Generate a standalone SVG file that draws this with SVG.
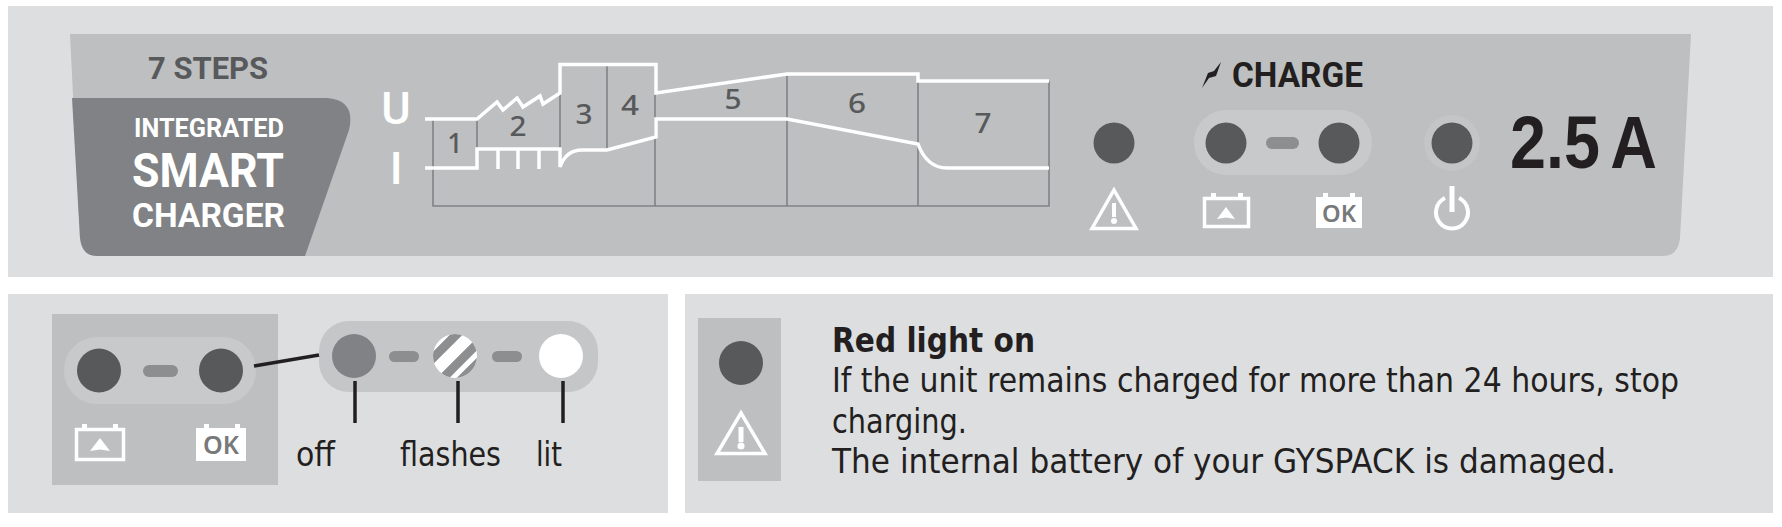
<svg xmlns="http://www.w3.org/2000/svg" width="1782" height="527" viewBox="0 0 1782 527">
<style>
.panel{fill:#dcdee0}
.inner{fill:#bdbfc1}
.led{fill:#58595b}
.pill{fill:#c8c9cb}
.dash{fill:#8c8e90}
.din{font-family:Roboto,"Liberation Sans",sans-serif;font-weight:700}
.wl{fill:none;stroke:#fff;stroke-width:3.5;stroke-linejoin:miter}
.gl{fill:none;stroke:#808285;stroke-width:1.6}
.num{font-family:"Noto Sans",sans-serif;font-size:27px;font-weight:500;fill:#58595b;text-anchor:middle}
.tw{fill:none;stroke:#fff;stroke-width:3.5}
.wf{fill:#fff}
.body{font-family:"DejaVu Sans","Noto Sans",sans-serif;font-size:33px;fill:#231f20}
.leader{fill:none;stroke:#231f20;stroke-width:3.5}
.oktext{font-family:"Noto Sans",sans-serif;font-weight:600;fill:#77797b;text-anchor:middle}
</style>
<defs>
<clipPath id="flashClip"><circle cx="455" cy="356" r="22"/></clipPath>
</defs>
<rect width="1782" height="527" fill="#fff"/>

<g id="top-panel">
<rect class="panel" x="8" y="6" width="1765" height="271"/>
<path class="inner" d="M70 34H1691L1680 238Q1678 256 1663 256H97Q82 256 80 238Z"/>
</g>

<g id="badge">
<path d="M72 98H327Q356 100 349 130L305 256H97Q82 256 80 238Z" fill="#808285"/>
<text class="din" x="148" y="79" font-size="32" fill="#58595b" textLength="120" lengthAdjust="spacingAndGlyphs">7 STEPS</text>
<text class="din" x="134" y="137" font-size="25" fill="#fff" textLength="150" lengthAdjust="spacingAndGlyphs">INTEGRATED</text>
<text class="din" x="132" y="187" font-size="48" fill="#fff" textLength="152" lengthAdjust="spacingAndGlyphs">SMART</text>
<text class="din" x="132" y="227" font-size="34" fill="#fff" textLength="153" lengthAdjust="spacingAndGlyphs">CHARGER</text>
</g>

<g id="chart">
<text x="396" y="124" font-family="Roboto,sans-serif" font-size="45" font-weight="500" fill="#fff" text-anchor="middle">U</text>
<text x="396" y="184" font-family="Roboto,sans-serif" font-size="45" font-weight="500" fill="#fff" text-anchor="middle">I</text>
<path class="gl" d="M433 120V206H1049V81M477 120V149M560 93V149M607 66V150M655 94V206M787 76V206M918 76V206"/>
<path class="wl" d="M425 119H477L497 102L503 110L517 98L523 107L540 96L543 104L560 93V64.500H656V93L787 74H918V81H1049"/>
<path class="wl" d="M425 168H477V149H560V167Q566 150 582 150H607L656 137V119H787L918 144Q927 168 947 168H1049"/>
<path class="wl" d="M498 149V169M518 149V169M539 149V169"/>
<text class="num" x="455" y="153">1</text>
<text class="num" x="518" y="136" textLength="17" lengthAdjust="spacingAndGlyphs">2</text>
<text class="num" x="584" y="124" textLength="17" lengthAdjust="spacingAndGlyphs">3</text>
<text class="num" x="630" y="115" textLength="18" lengthAdjust="spacingAndGlyphs">4</text>
<text class="num" x="733" y="109" textLength="17" lengthAdjust="spacingAndGlyphs">5</text>
<text class="num" x="857" y="113" textLength="18" lengthAdjust="spacingAndGlyphs">6</text>
<text class="num" x="983" y="133" textLength="17" lengthAdjust="spacingAndGlyphs">7</text>
</g>

<g id="warning-indicator">
<circle class="led" cx="1114" cy="143" r="20.500"/>
<path class="tw" d="M1114 190L1136 228.500H1092Z"/>
<rect class="wf" x="1112" y="203" width="4" height="14"/>
<circle class="wf" cx="1114" cy="221" r="3"/>
</g>

<g id="charge-indicator">
<path d="M1202 88L1208 73L1214 71L1221 62L1216 76L1209 78Z" fill="#231f20"/>
<text class="din" x="1232" y="87" font-size="35" fill="#231f20" textLength="131" lengthAdjust="spacingAndGlyphs">CHARGE</text>
<rect class="pill" x="1194" y="110" width="178" height="65" rx="32"/>
<circle class="led" cx="1226" cy="143" r="20.500"/>
<circle class="led" cx="1339" cy="143" r="20.500"/>
<rect class="dash" x="1266" y="137" width="33" height="12" rx="6"/>
<path class="tw" d="M1204.500 198.500H1248.500V226.500H1204.500Z" stroke-width="3.200"/>
<path class="wf" d="M1211 193h5v4h-5zM1238 193h5v4h-5zM1226 207L1235 219L1226 217.500L1217 219Z"/>
<path class="wf" d="M1316 197H1362V228H1316ZM1323 193h5v4h-5zM1350 193h5v4h-5z"/>
<text class="oktext" x="1339" y="222" font-size="24" textLength="34" lengthAdjust="spacingAndGlyphs">OK</text>
</g>

<g id="power-indicator">
<circle cx="1452" cy="143" r="28" fill="#c4c5c7"/>
<circle class="led" cx="1452" cy="143" r="20.500"/>
<path d="M1445 198A16 16 0 1 0 1459 198" fill="none" stroke="#fff" stroke-width="4"/>
<rect class="wf" x="1449.500" y="186" width="5" height="26"/>
</g>

<g id="rating">
<text x="1510" y="168" font-family="'Liberation Sans',Arial,sans-serif" font-weight="700" font-size="74" fill="#231f20" word-spacing="-6" textLength="147" lengthAdjust="spacingAndGlyphs">2.5 A</text>
</g>

<g id="legend-panel">
<rect class="panel" x="8" y="294" width="660" height="219"/>
<rect class="inner" x="52" y="314" width="226" height="171"/>
</g>

<g id="legend-charger">
<rect class="pill" x="64" y="337" width="192" height="67" rx="33"/>
<circle class="led" cx="99" cy="370.500" r="22"/>
<circle class="led" cx="221" cy="370.500" r="22"/>
<rect class="dash" x="143" y="365" width="35" height="12" rx="6"/>
<path class="tw" d="M76.500 429.500H123.500V459.500H76.500Z" stroke-width="3.200"/>
<path class="wf" d="M82 424h5v5h-5zM113 424h5v5h-5zM100 438L110 451L100 449.500L90 451Z"/>
<path class="wf" d="M196 428H246V461H196ZM204 424h5v5h-5zM235 424h5v5h-5z"/>
<text class="oktext" x="221" y="454" font-size="26" textLength="36" lengthAdjust="spacingAndGlyphs">OK</text>
</g>

<g id="legend-states">
<rect x="319" y="321" width="279" height="71" rx="30" fill="#c4c6c8"/>
<circle cx="354" cy="356" r="22" fill="#808285"/>
<rect class="dash" x="389" y="351" width="30" height="11" rx="5.500"/>
<circle cx="455" cy="356" r="22" fill="#fff"/>
<g clip-path="url(#flashClip)" stroke="#8c8e90" stroke-width="9">
<path d="M425 366L465 326M435 386L485 336M445 396L495 346"/>
</g>
<rect class="dash" x="492" y="351" width="30" height="11" rx="5.500"/>
<circle cx="561" cy="356" r="22" fill="#fff"/>
<text class="body" x="296" y="466" textLength="39" lengthAdjust="spacingAndGlyphs">off</text>
<text class="body" x="400" y="466" textLength="101" lengthAdjust="spacingAndGlyphs">flashes</text>
<text class="body" x="536" y="466" textLength="26" lengthAdjust="spacingAndGlyphs">lit</text>
</g>

<g id="connectors">
<path class="leader" d="M254 366L319 355"/>
<path class="leader" d="M355 381V423M458 381V423M563 381V423"/>
</g>

<g id="red-light-panel">
<rect class="panel" x="685" y="294" width="1088" height="219"/>
<rect class="inner" x="698" y="318" width="83" height="163"/>
<circle class="led" cx="741" cy="363" r="22"/>
<path class="tw" d="M741 413L765 453.500H717Z"/>
<rect class="wf" x="738.500" y="427" width="5" height="15"/>
<circle class="wf" cx="741" cy="446" r="3.500"/>
<text class="body" x="832" y="352" font-weight="700" textLength="203" lengthAdjust="spacingAndGlyphs">Red light on</text>
<text class="body" x="832" y="392" textLength="847" lengthAdjust="spacingAndGlyphs">If the unit remains charged for more than 24 hours, stop</text>
<text class="body" x="832" y="433" textLength="135" lengthAdjust="spacingAndGlyphs">charging.</text>
<text class="body" x="832" y="473" textLength="784" lengthAdjust="spacingAndGlyphs">The internal battery of your GYSPACK is damaged.</text>
</g>
</svg>
